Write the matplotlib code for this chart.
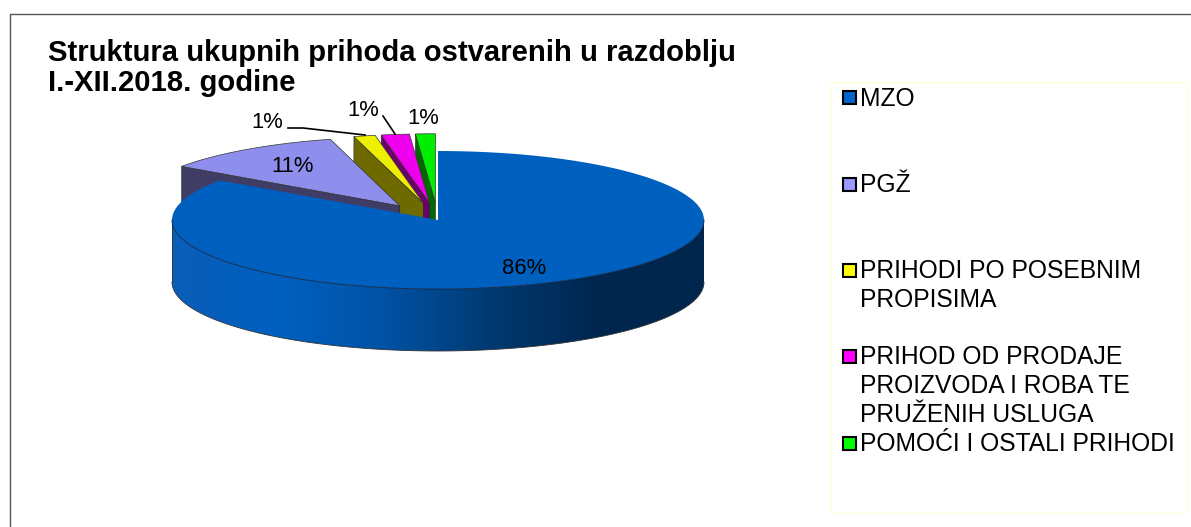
import numpy as np
import matplotlib
matplotlib.use('Agg')
import matplotlib.pyplot as plt
from matplotlib.patches import Polygon, Rectangle
from matplotlib.colors import LinearSegmentedColormap

plt.rcParams['font.family'] = ['Liberation Sans', 'DejaVu Sans']

title = 'Struktura ukupnih prihoda ostvarenih u razdoblju\nI.-XII.2018. godine'
categories = ['MZO', 'PGŽ', 'PRIHODI PO POSEBNIM\nPROPISIMA',
              'PRIHOD OD PRODAJE\nPROIZVODA I ROBA TE\nPRUŽENIH USLUGA',
              'POMOĆI I OSTALI PRIHODI']
shares = [84.7, 11.1, 1.3, 1.7, 1.2]
pct_labels = ['86%', '11%', '1%', '1%', '1%']
top_colors = ['#0060C0', '#8E8EEC', '#EEEE00', '#EE00EE', '#00EE00']
side_colors = ['#0060C0', '#3F3D66', '#6E6A00', '#6E006E', '#006A00']
legend_colors = ['#0066CC', '#9999FF', '#FFFF00', '#FF00FF', '#00FF00']
legend_y = [97.5, 184, 270, 356.5, 443]
rim_stops = ['#0A5EB8', '#0060C0', '#0052A4', '#003A72', '#00264E', '#00264E']

fig = plt.figure(figsize=(11.91, 5.27), dpi=100)
ax = fig.add_axes([0, 0, 1, 1])
ax.set_xlim(0, 1191)
ax.set_ylim(527, 0)
ax.axis('off')

# chart frame, open to the right and bottom of the crop
ax.plot([9.5, 9.5, 1191], [527, 13.5, 13.5], color='#555555', lw=1.0)
ax.add_patch(Rectangle((831, 82), 356, 430, fc='white', ec='#FFFFE0', lw=1))

ax.text(48, 68, title, fontsize=21.1, fontweight='bold', va='center', ha='left', linespacing=1.06)

cx, cy, rx, ry, depth = 438, 220, 266, 69, 62
explode = 0.25


def arc(a0, a1, ox=0, oy=0, n=120):
    t = np.radians(np.linspace(a0, a1, n))
    return np.column_stack([cx + ox + rx * np.sin(t), cy + oy - ry * np.cos(t)])


# angles run clockwise from twelve o'clock
ends = np.cumsum(shares) * 3.6
starts = np.r_[0, ends[:-1]]

# exploded slices, back to front so each one hides the side of the next
for i in [4, 3, 2, 1]:
    mid = np.radians((starts[i] + ends[i]) / 2)
    ox, oy = explode * rx * np.sin(mid), -explode * ry * np.cos(mid)
    pts = arc(starts[i], ends[i], ox, oy)
    apex = (cx + ox, cy + oy)
    corner = pts[0]
    ax.add_patch(Polygon([apex, corner, (corner[0], corner[1] + depth), (apex[0], apex[1] + depth)],
                         fc=side_colors[i], ec='#222222', lw=0.4))
    ax.add_patch(Polygon(np.vstack([[apex], pts]), fc=top_colors[i], ec='#333333', lw=0.5))

# rim of the big slice with its left to right shading
cmap = LinearSegmentedColormap.from_list('rim', rim_stops)
rim_top = arc(90, 270)
rim = np.vstack([rim_top, rim_top[::-1] + [0, depth]])
rim_patch = Polygon(rim, fc='none', ec='none')
ax.add_patch(rim_patch)
im = ax.imshow(np.linspace(0, 1, 256)[None, :], cmap=cmap, aspect='auto',
               extent=[cx - rx, cx + rx, cy + ry + depth, cy], zorder=2)
im.set_clip_path(rim_patch)
ax.set_xlim(0, 1191)
ax.set_ylim(527, 0)
ax.plot(*rim[:120].T, color='#10233F', lw=0.6, zorder=5)
ax.plot(*rim[120:].T, color='#333333', lw=0.6, zorder=3)
ax.plot([cx - rx, cx - rx], [cy, cy + depth], color='#333333', lw=0.5, zorder=3)

# top of the big slice
pts = arc(starts[0], ends[0])
ax.add_patch(Polygon(np.vstack([[(cx, cy)], pts]), fc=top_colors[0], ec='none', zorder=4))

# percentage labels
ax.text(524, 269, pct_labels[0], fontsize=15.8, ha='center', va='center', zorder=6)
ax.text(293, 167, pct_labels[1], fontsize=15.8, ha='center', va='center', zorder=6)
ax.text(267, 123, pct_labels[2], fontsize=15.8, ha='center', va='center', zorder=6)
ax.text(363, 110, pct_labels[3], fontsize=15.8, ha='center', va='center', zorder=6)
ax.text(423, 118, pct_labels[4], fontsize=15.8, ha='center', va='center', zorder=6)

# leader lines
ax.plot([288, 303, 365], [128, 128, 135], color='black', lw=1.2, zorder=6)
ax.plot([383, 395], [116, 134], color='black', lw=1.2, zorder=6)

# legend
for y, name, color in zip(legend_y, categories, legend_colors):
    ax.add_patch(Rectangle((842.5, y - 6.5), 13, 13, fc=color, ec='black', lw=1.5, zorder=6))
    ax.text(860, y - 11, name, fontsize=17.7, va='top', ha='left', linespacing=1.24, zorder=6)

fig.savefig('out.png', dpi=100)
